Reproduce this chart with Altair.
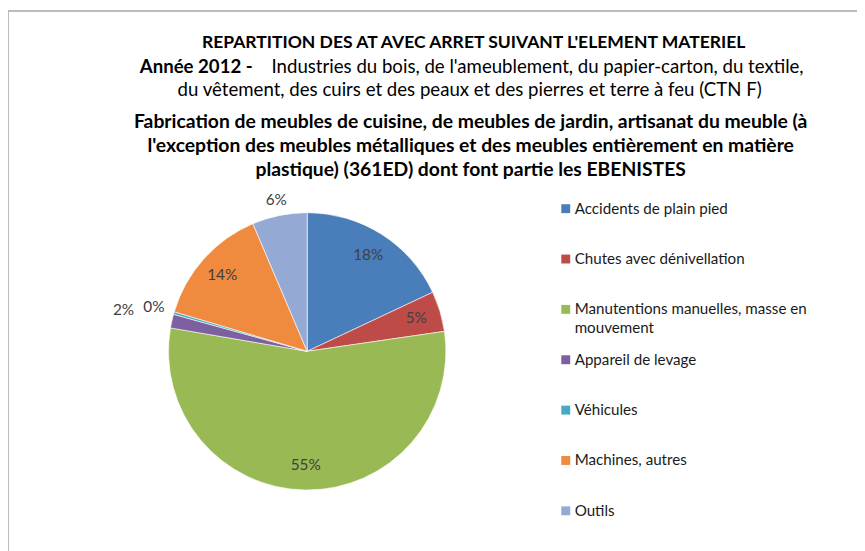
import altair as alt
import pandas as pd

FONT = "Lato"

categories = [
    "Accidents de plain pied",
    "Chutes avec dénivellation",
    "Manutentions manuelles, masse en mouvement",
    "Appareil de levage",
    "Véhicules",
    "Machines, autres",
    "Outils",
]
values = [18.0, 4.7, 55.0, 1.6, 0.3, 14.0, 6.4]
colors = ["#4A7EBB", "#BE4B48", "#98B954", "#7D60A0", "#46AAC5", "#F08A3E", "#94AAD4"]

title_line1 = "REPARTITION DES AT AVEC ARRET SUIVANT L'ELEMENT MATERIEL"
title_line2_bold = "Année 2012  -"
title_line2 = "Industries du bois, de l'ameublement, du papier-carton, du textile,"
title_line3 = "du vêtement, des cuirs et des peaux et des pierres et terre à feu (CTN F)"
title_lines_b = [
    "Fabrication de meubles de cuisine, de meubles de jardin, artisanat du meuble (à",
    "l'exception des meubles métalliques et des meubles entièrement en matière",
    "plastique) (361ED) dont font partie les EBENISTES",
]

df = pd.DataFrame({"cat": categories, "v": values, "idx": list(range(len(categories)))})

DX = 4
CX, CY, R = 298 + DX, 344, 140

color = alt.Color("cat:N", scale=alt.Scale(domain=categories, range=colors), legend=None)
base = alt.Chart(df)

pie = base.mark_arc(outerRadius=R, stroke="white", strokeWidth=0.6).encode(
    theta=alt.Theta("v:Q", stack=True),
    order=alt.Order("idx:Q"),
    color=color,
    x=alt.value(CX),
    y=alt.value(CY),
)

labels = base.transform_window(
    cum="sum(v)", sort=[alt.SortField("idx")], frame=[None, 0]
).transform_calculate(
    mid="datum.cum - datum.v / 2",
    lab="format(datum.v/100, '.0%')",
    r="datum.v < 1 ? 161 : datum.v < 3 ? 190 : datum.idx == 6 ? 156 : 115",
).mark_text(font=FONT, fontSize=15.5, color="#404040").encode(
    theta=alt.Theta("mid:Q", stack=None),
    radius=alt.Radius("r:Q", scale=None),
    text="lab:N",
    x=alt.value(CX),
    y=alt.value(CY),
)

leg_y = alt.Y("cat:N", scale=alt.Scale(type="point", domain=categories, range=[200, 505], padding=0), axis=None)

leg_sq = base.mark_square(size=81, opacity=1).encode(
    x=alt.value(559 + DX), y=leg_y, color=color
)
leg_txt = base.transform_calculate(
    lbl="replace(datum.cat, 'masse en mouvement', 'masse en\\nmouvement')"
).mark_text(
    font=FONT, fontSize=15.3, align="left", baseline="alphabetic", dy=5,
    lineBreak="\n", lineHeight=19, color="#1a1a1a"
).encode(x=alt.value(568 + DX), y=leg_y, text="lbl:N")


def txt(s, x, y, size, bold, align="center"):
    return alt.Chart(alt.Data(values=[{}])).mark_text(
        text=s, font=FONT, fontSize=size, fontWeight="bold" if bold else "normal",
        align=align, baseline="middle", color="#000000",
    ).encode(x=alt.value(x + DX), y=alt.value(y))


titles = [
    txt(title_line1, 466, 33, 17.7, True),
    txt(title_line2_bold, 129, 57, 18.8, True, "left"),
    txt(title_line2, 262, 57, 18.8, False, "left"),
    txt(title_line3, 462, 80, 18.8, False),
    txt(title_lines_b[0], 463, 113, 19.5, True),
    txt(title_lines_b[1], 463, 137, 19.5, True),
    txt(title_lines_b[2], 463, 161, 19.5, True),
]

frame = alt.Chart(alt.Data(values=[{}])).mark_rect(
    fillOpacity=0, stroke="#a6a6a6", strokeWidth=1.5
).encode(x=alt.value(0), y=alt.value(0.5), x2=alt.value(1000), y2=alt.value(1000))

chart = alt.layer(frame, pie, labels, leg_sq, leg_txt, *titles).properties(
    width=857, height=543,
    autosize=alt.AutoSizeParams(type="none"),
    padding=0,
).configure_view(stroke=None)

chart.save("out.html", embed_options={"renderer": "svg", "actions": False})
